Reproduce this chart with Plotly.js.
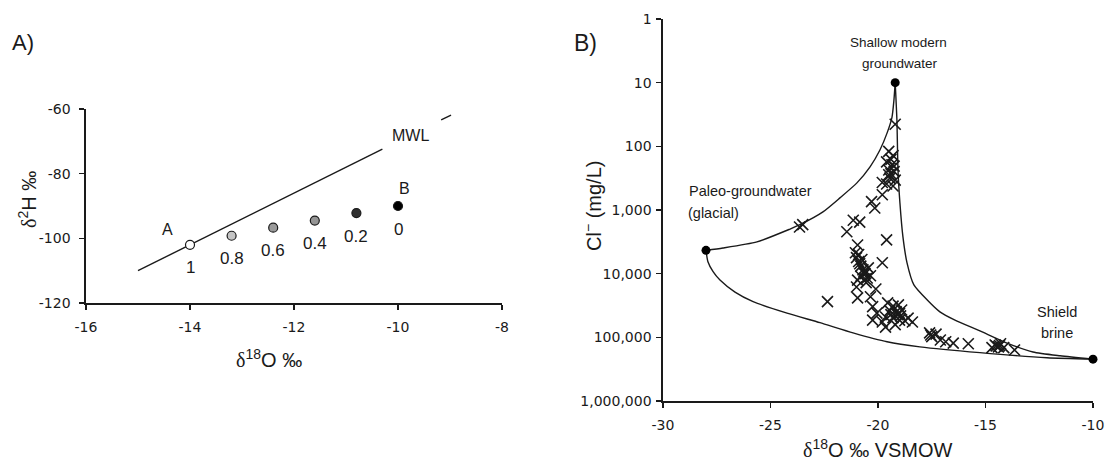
<!DOCTYPE html>
<html>
<head>
<meta charset="utf-8">
<script src="https://cdn.plot.ly/plotly-3.0.1.min.js"></script>
<style>
  html, body { margin: 0; padding: 0; background: #fff; }
  #chart { width: 1106px; height: 464px; }
</style>
</head>
<body>
<div id="chart"></div>
<script>
// ---------- Panel A: two-component mixing in δ18O / δ2H space ----------
const mixFraction = [1, 0.8, 0.6, 0.4, 0.2, 0];
const mixD18O = [-14, -13.2, -12.4, -11.6, -10.8, -10];
const mixD2H = [-102, -99.2, -96.7, -94.5, -92.2, -90];
const mixFill = ['#ffffff', '#c4c4c4', '#9a9a9a', '#959595', '#303030', '#000000'];

// Meteoric water line (broken where its label sits)
const mwlD18O = [-15, -10.3, null, -9.17, -8.98];
const mwlD2H = [-110, -72.4, null, -63.4, -61.9];

const aTickVals = { x: [-16, -14, -12, -10, -8], y: [-120, -100, -80, -60] };
const aTickText = { x: ['-16', '-14', '-12', '-10', '-8'], y: ['-120', '-100', '-80', '-60'] };

// ---------- Panel B: δ18O vs chloride ----------
const endName = ['Shallow modern groundwater', 'Paleo-groundwater (glacial)', 'Shield brine'];
const endD18O = [-19.2, -28, -10];
const endCl = [10, 4300, 220000];

// Mixing curve: shallow modern ↔ paleo-groundwater
const curveSPd18O = [-19.2, -19.26, -19.35, -19.58, -19.91, -20.37, -20.98, -21.77, -22.56, -23.63, -24.09, -25.63, -27.21, -28.0];
const curveSPcl = [10, 19, 35, 62, 114, 210, 375, 645, 1070, 1700, 1990, 3170, 3950, 4300];

// Mixing curve: shallow modern ↔ shield brine
const curveSBd18O = [-19.2, -19.12, -19.07, -18.98, -18.84, -18.65, -18.33, -17.72, -17.12, -16.42, -15.26, -14.0, -12.79, -11.53, -10.0];
const curveSBcl = [10, 39, 235, 775, 2650, 6760, 15000, 25700, 39800, 53700, 79400, 123000, 170000, 195000, 220000];

// Mixing curve: paleo-groundwater ↔ shield brine
const curvePBd18O = [-28.0, -27.91, -27.67, -27.35, -26.65, -25.81, -24.23, -22.7, -21.16, -19.58, -18.05, -15.26, -12.14, -10.0];
const curvePBcl = [4300, 6500, 9300, 12600, 19500, 27500, 41700, 58900, 85100, 117500, 141000, 174000, 209000, 220000];

// Groundwater samples
const sampleD18O = [
  -19.2, -19.5, -19.3, -19.6, -19.35, -19.5, -19.25, -19.45, -19.2, -19.6, -19.3, -19.8, -19.4, -19.25, -19.4, -19.5,
  -19.8, -20.3, -20.15, -21.15, -20.85, -21.45, -23.65, -23.5, -19.6, -20.95, -19.8,
  -21.05, -21.0, -20.9, -20.8, -20.7, -20.6, -20.5, -20.75, -20.45, -20.35, -20.55, -20.95, -20.85, -20.65,
  -20.9, -20.65, -20.8, -20.6,
  -21.0, -20.1, -22.35, -20.95, -20.35, -20.25, -20.05, -20.25, -19.65,
  -19.55, -19.3, -19.05, -19.45, -19.15, -18.9, -19.65, -19.3, -19.0, -18.75, -18.4, -19.8, -19.2, -19.1, -18.95,
  -19.4, -19.0, -18.6,
  -17.6, -17.5, -17.3, -17.1, -16.85, -16.5, -15.8, -14.55, -14.4, -14.3, -14.15, -13.65, -14.7, -14.5, -14.35, -17.55
];
const sampleCl = [
  45, 120, 140, 175, 195, 235, 250, 315, 340, 390, 420, 370, 270, 205, 160, 280,
  575, 740, 930, 1450, 1550, 2200, 1850, 1700, 2950, 3550, 6750,
  4700, 5600, 6450, 7600, 8700, 10000, 11700, 6000, 8100, 10800, 13800, 12600, 7000, 9300,
  5000, 9800, 11000, 12000,
  16200, 17400, 27500, 24000, 23000, 33000, 41700, 53700, 69000,
  28800, 32400, 30900, 38000, 39800, 37200, 47900, 49000, 53700, 55000, 57500, 57500, 63100, 44000, 46000,
  44000, 42000, 50000,
  85000, 97700, 89000, 110000, 117500, 123000, 126000, 132000, 141000, 126000, 145000, 158000, 145000, 137000, 135000, 92000
];

const bTickVals = { x: [-30, -25, -20, -15, -10], y: [1, 10, 100, 1000, 10000, 100000, 1000000] };
const bTickText = { x: ['-30', '-25', '-20', '-15', '-10'], y: ['1', '10', '100', '1,000', '10,000', '100,000', '1,000,000'] };

const FONT = '"Liberation Sans", Arial, sans-serif';
const TICKFONT = '"DejaVu Sans", "Liberation Sans", sans-serif';
const SERIF = 'Liberation Serif';
const INK = '#1a1a1a';
const W = 1106, H = 464;
const px = v => v / W;
const py = v => 1 - v / H;

const traces = [
  {
    x: mwlD18O, y: mwlD2H, xaxis: 'x', yaxis: 'y',
    mode: 'lines', line: { color: INK, width: 1.4 }, hoverinfo: 'skip', showlegend: false
  },
  {
    x: mixD18O, y: mixD2H, xaxis: 'x', yaxis: 'y',
    mode: 'markers', text: mixFraction.map(String),
    marker: { size: 9, color: mixFill, line: { color: INK, width: 1.2 } },
    showlegend: false, cliponaxis: false
  },
  {
    x: curveSPd18O, y: curveSPcl, xaxis: 'x2', yaxis: 'y2',
    mode: 'lines', line: { color: INK, width: 1.4, shape: 'spline', smoothing: 0.6 }, showlegend: false, hoverinfo: 'skip'
  },
  {
    x: curveSBd18O, y: curveSBcl, xaxis: 'x2', yaxis: 'y2',
    mode: 'lines', line: { color: INK, width: 1.4, shape: 'spline', smoothing: 0.6 }, showlegend: false, hoverinfo: 'skip'
  },
  {
    x: curvePBd18O, y: curvePBcl, xaxis: 'x2', yaxis: 'y2',
    mode: 'lines', line: { color: INK, width: 1.4, shape: 'spline', smoothing: 0.6 }, showlegend: false, hoverinfo: 'skip'
  },
  {
    x: sampleD18O, y: sampleCl, xaxis: 'x2', yaxis: 'y2',
    mode: 'markers', marker: { symbol: 'x-thin-open', size: 11, color: INK, line: { color: INK, width: 1.6 } },
    showlegend: false
  },
  {
    x: endD18O, y: endCl, xaxis: 'x2', yaxis: 'y2', text: endName,
    mode: 'markers', marker: { size: 9, color: '#000' }, showlegend: false, cliponaxis: false
  }
];

// labels of the mixing fractions, sitting under each point
const fractionLabels = mixFraction.map((f, i) => ({
  x: mixD18O[i], y: mixD2H[i], xref: 'x', yref: 'y', yshift: -23,
  text: String(f), showarrow: false, font: { family: FONT, size: 17, color: INK }
}));

const ann = (x, y, text, size, extra) => Object.assign({
  x: px(x), y: py(y), xref: 'paper', yref: 'paper', text: text, showarrow: false,
  xanchor: 'center', yanchor: 'middle',
  font: { family: FONT, size: size, color: INK }
}, extra || {});

const axisBase = {
  showgrid: false, zeroline: false, showline: true, linecolor: INK, linewidth: 1.6,
  ticks: 'outside', ticklen: 5, tickwidth: 1.3, tickcolor: INK, tickmode: 'array',
  tickfont: { family: TICKFONT, size: 14, color: INK }, automargin: false
};

const layout = {
  width: W, height: H,
  margin: { l: 0, r: 0, t: 0, b: 0 },
  paper_bgcolor: '#fff', plot_bgcolor: '#fff',
  font: { family: FONT, color: INK },
  showlegend: false,
  xaxis: Object.assign({}, axisBase, {
    domain: [px(86), px(502)], range: [-16, -8], anchor: 'y',
    tickvals: aTickVals.x, ticktext: aTickText.x, ticklabelstandoff: 6
  }),
  yaxis: Object.assign({}, axisBase, {
    domain: [py(303), py(109)], range: [-120, -60], anchor: 'x',
    tickvals: aTickVals.y, ticktext: aTickText.y, ticklabelstandoff: 6
  }),
  xaxis2: Object.assign({}, axisBase, {
    domain: [px(663), px(1093)], range: [-30, -10], anchor: 'y2',
    tickvals: bTickVals.x, ticktext: bTickText.x, ticklabelstandoff: 6
  }),
  yaxis2: Object.assign({}, axisBase, {
    domain: [py(401), py(19)], type: 'log', range: [6, 0], anchor: 'x2',
    tickvals: bTickVals.y, ticktext: bTickText.y, ticklabelstandoff: 2
  }),
  annotations: [
    ann(23, 43, 'A)', 22),
    ann(585, 43, 'B)', 23),
    ann(269, 358, '<span style="font-family:' + SERIF + '">δ</span><sup>18</sup>O ‰', 20),
    ann(27, 200, '<span style="font-family:' + SERIF + '">δ</span><sup>2</sup>H ‰', 20, { textangle: -90 }),
    ann(592, 206, 'Cl<sup>−</sup> (mg/L)', 20, { textangle: -90 }),
    ann(878, 448, '<span style="font-family:' + SERIF + '">δ</span><sup>18</sup>O ‰ VSMOW', 20),
    // panel A text marks
    ann(167, 229, 'A', 16),
    ann(404, 188, 'B', 16),
    ann(410, 135, 'MWL', 16),
    // panel B end-member names
    ann(898, 42, 'Shallow modern', 13.5),
    ann(900, 63, 'groundwater', 13.5),
    ann(687, 191, 'Paleo-groundwater', 14.5, { xanchor: 'left' }),
    ann(686, 213, '(glacial)', 14.5, { xanchor: 'left' }),
    ann(1057, 312, 'Shield', 14.5),
    ann(1057, 333, 'brine', 14.5)
  ].concat(fractionLabels)
};

Plotly.newPlot('chart', traces, layout, { staticPlot: true, displayModeBar: false });
</script>
</body>
</html>
